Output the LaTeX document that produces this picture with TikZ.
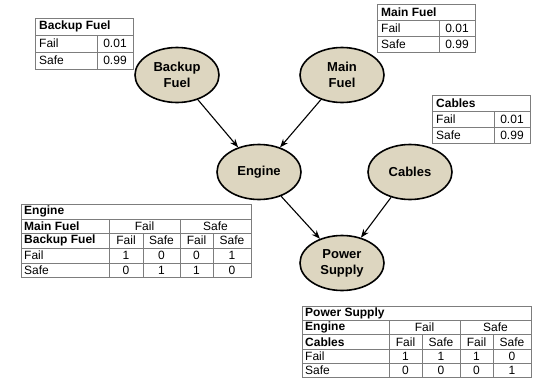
\documentclass[tikz,border=0pt]{standalone}
\usepackage{fontspec}
\setmainfont{Liberation Sans}
\usetikzlibrary{arrows.meta}
\usetikzlibrary{shapes.geometric}

\definecolor{nodefill}{RGB}{221,214,192}
\definecolor{tablegray}{RGB}{125,125,125}

\tikzset{
 var/.style={ellipse, draw=black, line width=1.6pt, fill=nodefill, minimum width=84pt, minimum height=55pt,
   inner sep=0pt, align=center, font=\bfseries\fontsize{13}{16}\selectfont},
 link/.style={black, line width=1.1pt, -{Stealth[length=8.5pt,width=6.5pt]}},
 grid/.style={draw=tablegray, line width=.9pt},
 hdr/.style={anchor=west, inner sep=0pt, font=\bfseries\fontsize{12}{14}\selectfont},
 lbl/.style={anchor=west, inner sep=0pt, font=\fontsize{12}{14}\selectfont},
 val/.style={inner sep=0pt, font=\fontsize{12}{14}\selectfont},
}

\begin{document}
\begin{tikzpicture}[x=1pt, y=-1pt]
\useasboundingbox (0,0) rectangle (539,378);

% variables
\node[var] (backup) at (177,75) {Backup\\Fuel};
\node[var] (main) at (342,75) {Main\\Fuel};
\node[var] (engine) at (259,172) {Engine};
\node[var] (cables) at (410,172) {Cables};
\node[var] (power) at (342,263) {Power\\Supply};

\draw[link] (backup) -- (engine);
\draw[link] (main) -- (engine);
\draw[link] (engine) -- (power);
\draw[link] (cables) -- (power);

% prior tables
\foreach \t/\x/\y/\h [count=\i] in {Backup Fuel/35/18/17, Main Fuel/377/4/16, Cables/432/95/16} {
 \draw[grid] (\x,\y) rectangle ++(98,3*\h);
 \draw[grid] (\x,\y+\h) --++(98,0) (\x,\y+2*\h) --++(98,0) (\x+62,\y+\h) --++(0,2*\h);
 \node[hdr] (p\i-head) at (\x+4,\y+\h/2) {\t};
 \node[lbl] (p\i-fail) at (\x+4,\y+1.5*\h) {Fail};
 \node[lbl] (p\i-safe) at (\x+4,\y+2.5*\h) {Safe};
 \node[val] (p\i-pf) at (\x+80,\y+1.5*\h) {0.01};
 \node[val] (p\i-ps) at (\x+80,\y+2.5*\h) {0.99};
}

% engine table
\draw[grid] (21,204) rectangle (251,277);
\foreach \y in {219,233,248,263} \draw[grid] (21,\y) -- (251,\y);
\draw[grid] (109,219) -- (109,277) (180,219) -- (180,277);
\foreach \x in {143,213} \draw[grid] (\x,233) -- (\x,277);
\node[hdr] (e-head) at (24,211.5) {Engine};
\node[hdr] (e-main) at (24,226) {Main Fuel};
\node[hdr] (e-backup) at (24,240.5) {Backup Fuel};
\node[lbl] (e-fail) at (24,255.5) {Fail};
\node[lbl] (e-safe) at (24,270) {Safe};
\node[val] (e-mf) at (144.5,226) {Fail};
\node[val] (e-ms) at (215.5,226) {Safe};
\foreach \x/\c/\a/\b [count=\i] in {126/Fail/1/0, 161.5/Safe/0/1, 196.5/Fail/0/1, 232/Safe/1/0} {
 \node[val] (e-c\i) at (\x,240.5) {\c};
 \node[val] (e-f\i) at (\x,255.5) {\a};
 \node[val] (e-s\i) at (\x,270) {\b};
}

% power supply table
\draw[grid] (302,306) rectangle (531,377.5);
\foreach \y in {320,334.5,349,363.5} \draw[grid] (302,\y) -- (531,\y);
\draw[grid] (389,320) -- (389,377.5) (460,320) -- (460,377.5);
\foreach \x in {422,493} \draw[grid] (\x,334.5) -- (\x,377.5);
\node[hdr] (s-head) at (305,313) {Power Supply};
\node[hdr] (s-engine) at (305,327.25) {Engine};
\node[hdr] (s-cables) at (305,341.75) {Cables};
\node[lbl] (s-fail) at (305,356.25) {Fail};
\node[lbl] (s-safe) at (305,370.5) {Safe};
\node[val] (s-ef) at (424.5,327.25) {Fail};
\node[val] (s-es) at (495.5,327.25) {Safe};
\foreach \x/\c/\a/\b [count=\i] in {405.5/Fail/1/0, 441/Safe/1/0, 476.5/Fail/1/0, 512/Safe/0/1} {
 \node[val] (s-c\i) at (\x,341.75) {\c};
 \node[val] (s-f\i) at (\x,356.25) {\a};
 \node[val] (s-s\i) at (\x,370.5) {\b};
}
\end{tikzpicture}
\end{document}
